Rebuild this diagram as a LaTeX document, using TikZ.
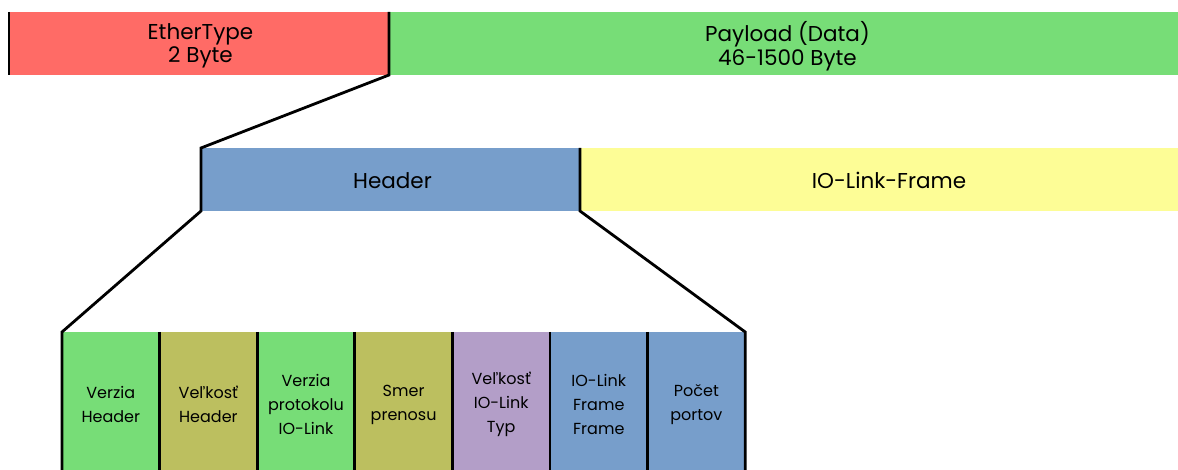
\documentclass[tikz,border=0pt]{standalone}
\usepackage{fontspec}
\setmainfont{Poppins}
\definecolor{cred}{HTML}{FF6B66}
\definecolor{cgreen}{HTML}{77DD77}
\definecolor{cblue}{HTML}{779ECB}
\definecolor{cyellow}{HTML}{FDFD96}
\definecolor{colive}{HTML}{BCBF5F}
\definecolor{cpurple}{HTML}{B39EC8}
\tikzset{
  field/.style={anchor=north west, inner sep=0pt, outer sep=0pt},
  bigfield/.style={field, minimum height=63pt},
  cellfield/.style={field, minimum width=97.6pt, minimum height=138pt},
  bigtext/.style={inner sep=0pt, align=center, text=black, font=\fontsize{21.5}{23.5}\selectfont},
  celltext/.style={inner sep=0pt, align=center, text=black, font=\fontsize{16}{24}\selectfont},
  edge/.style={draw=black, line width=2.8pt, line join=miter},
}
\begin{document}
\begin{tikzpicture}[x=1pt,y=-1pt]
\useasboundingbox (0,0) rectangle (1178,470);
% top row
\node[bigfield, fill=cred, minimum width=380pt] (eth) at (9,12) {};
\node[bigfield, fill=cgreen, minimum width=789pt] (pay) at (389,12) {};
% middle row
\node[bigfield, fill=cblue, minimum width=379pt] (hdr) at (201,148) {};
\node[bigfield, fill=cyellow, minimum width=598pt] (iol) at (580,148) {};
% bottom row
\node[cellfield, fill=cgreen] (c1) at (62,332) {};
\node[cellfield, fill=colive] (c2) at (c1.north east) {};
\node[cellfield, fill=cgreen] (c3) at (c2.north east) {};
\node[cellfield, fill=colive] (c4) at (c3.north east) {};
\node[cellfield, fill=cpurple] (c5) at (c4.north east) {};
\node[cellfield, fill=cblue] (c6) at (c5.north east) {};
\node[cellfield, fill=cblue] (c7) at (c6.north east) {};
% texts
\node[bigtext] (teth) at ([xshift=1.5pt,yshift=-2.5pt]eth.center) {EtherType\\2 Byte};
\node[bigtext] (tpay) at ([xshift=4pt,yshift=-2.5pt]pay.center) {Payload (Data)\\46-1500 Byte};
\node[bigtext] (thdr) at ([xshift=2pt,yshift=-1pt]hdr.center) {Header};
\node[bigtext] (tiol) at ([xshift=10pt,yshift=-1pt]iol.center) {IO-Link-Frame};
\foreach \c/\t in {c1/{Verzia\\Header}, c2/{Veľkosť\\Header}, c3/{Verzia\\protokolu\\IO-Link},
  c4/{Smer\\prenosu}, c5/{Veľkosť\\IO-Link\\Typ}, c6/{IO-Link\\Frame\\Frame}, c7/{Počet\\portov}}
  \node[celltext] (t\c) at ([yshift=-3.5pt]\c.center) {\t};
% edges
\draw[edge] (eth.north west) -- (eth.south west);
\draw[edge] (eth.north east) -- (eth.south east) -- (hdr.north west) -- (hdr.south west) -- (c1.north west) -- (c1.south west);
\draw[edge] (hdr.north east) -- (hdr.south east) -- (c7.north east) -- (c7.south east);
\foreach \c in {c2,c3,c4,c5,c6,c7}
  \draw[edge] (\c.north west) -- (\c.south west);
\end{tikzpicture}
\end{document}
